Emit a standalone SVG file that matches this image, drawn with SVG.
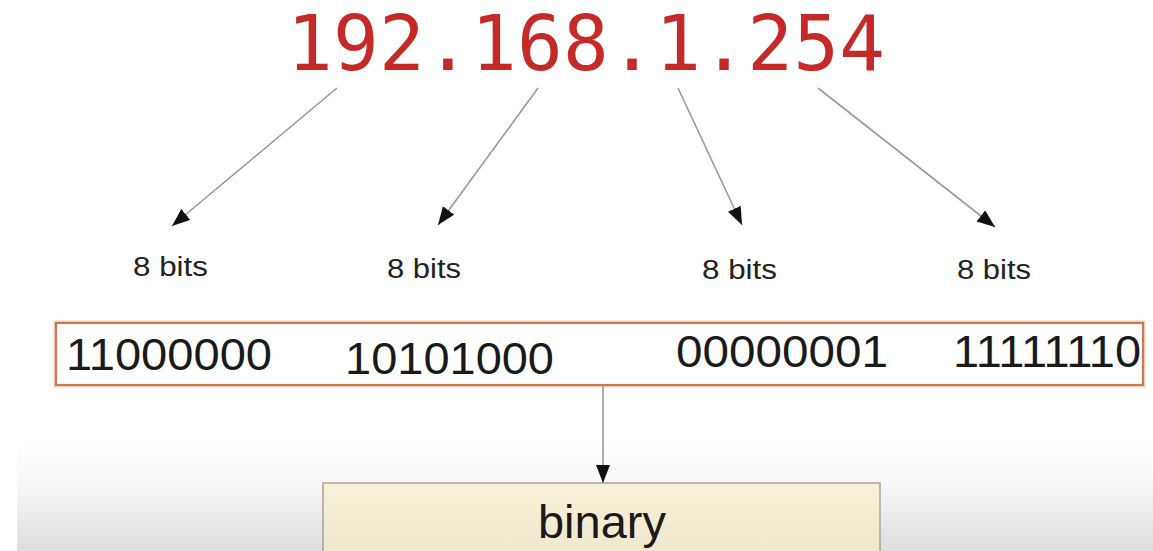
<svg xmlns="http://www.w3.org/2000/svg" width="1153" height="551" viewBox="0 0 1153 551">
<defs>
<linearGradient id="bg" x1="0" y1="0" x2="0" y2="1">
<stop offset="0" stop-color="#ffffff"/>
<stop offset="0.35" stop-color="#f9f9f9"/>
<stop offset="1" stop-color="#dedede"/>
</linearGradient>
<linearGradient id="bin" x1="0" y1="0" x2="0" y2="1">
<stop offset="0" stop-color="#f8f0d8"/>
<stop offset="1" stop-color="#efe6cc"/>
</linearGradient>
<marker id="ah" markerUnits="userSpaceOnUse" markerWidth="20" markerHeight="16" refX="18" refY="7" orient="auto">
<path d="M0,0 L18,7 L0,14 Z" fill="#111"/>
</marker>
<style>
.conn{stroke:#9a9a9a;stroke-width:1.6;fill:none;marker-end:url(#ah)}
.lbl{font-family:"Liberation Sans",Arial,sans-serif;font-size:27px;fill:#222}
.bits{font-family:"Liberation Sans",Arial,sans-serif;font-size:44px;fill:#1a1a1a}
</style>
</defs>
<rect width="1153" height="551" fill="#ffffff"/>
<rect x="17" y="440" width="1136" height="111" fill="url(#bg)"/>

<g id="ip">
<text x="287" y="70" font-family="DejaVu Sans Mono,monospace" font-size="76" fill="#c62a28" textLength="598" lengthAdjust="spacing">192.168.1.254</text>
</g>

<g id="labels">
<text class="lbl" x="133" y="276" textLength="75" lengthAdjust="spacingAndGlyphs">8 bits</text>
<text class="lbl" x="387" y="278" textLength="74" lengthAdjust="spacingAndGlyphs">8 bits</text>
<text class="lbl" x="702" y="279" textLength="75" lengthAdjust="spacingAndGlyphs">8 bits</text>
<text class="lbl" x="957" y="279" textLength="74" lengthAdjust="spacingAndGlyphs">8 bits</text>
</g>

<g id="octets">
<rect x="56" y="323" width="1087" height="62" fill="#ffffff" stroke="#f3d3c0" stroke-width="5"/>
<rect x="56" y="323" width="1087" height="62" fill="#ffffff" stroke="#c87a55" stroke-width="2.2"/>
<text class="bits" x="66" y="370" textLength="206" lengthAdjust="spacingAndGlyphs">11000000</text>
<text class="bits" x="345" y="374" textLength="209" lengthAdjust="spacingAndGlyphs">10101000</text>
<text class="bits" x="676" y="367" textLength="212" lengthAdjust="spacingAndGlyphs">00000001</text>
<text class="bits" x="953" y="367" textLength="188" lengthAdjust="spacingAndGlyphs">11111110</text>
</g>

<g id="binary">
<rect x="323" y="483" width="557" height="80" fill="url(#bin)" stroke="#a8a396" stroke-width="1.5"/>
<text x="602" y="538" text-anchor="middle" font-family="Liberation Sans,Arial,sans-serif" font-size="47" fill="#1a1a1a">binary</text>
</g>

<g id="connectors">
<line class="conn" x1="337" y1="88" x2="172" y2="226"/>
<line class="conn" x1="538" y1="88" x2="438" y2="225"/>
<line class="conn" x1="678" y1="88" x2="742" y2="225"/>
<line class="conn" x1="818" y1="88" x2="995" y2="227"/>
<line class="conn" x1="603" y1="386" x2="603" y2="483"/>
</g>
</svg>
